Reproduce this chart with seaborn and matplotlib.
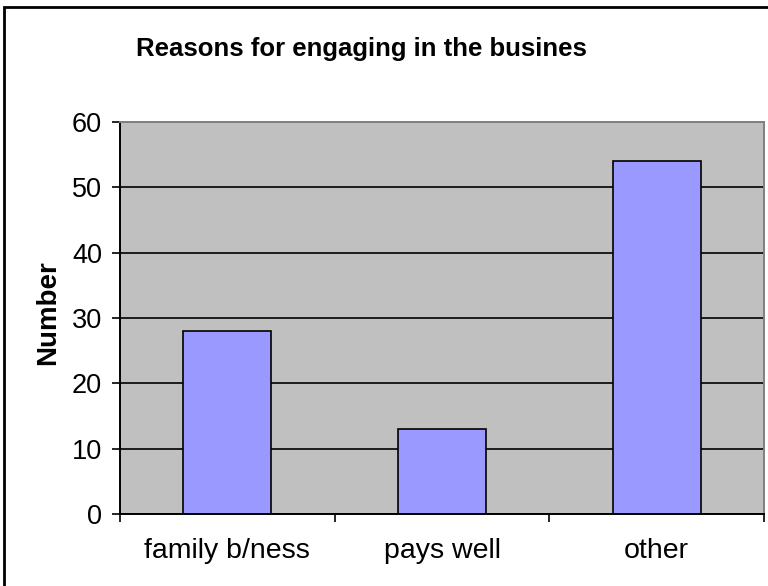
import matplotlib
matplotlib.use("Agg")
import matplotlib.pyplot as plt
import seaborn as sns
import pandas as pd
from matplotlib.patches import Rectangle

categories = ["family b/ness", "pays well", "other"]
values = [28, 13, 54]
yticks = [0, 10, 20, 30, 40, 50, 60]
title = "Reasons for engaging in the busines"
ylabel = "Number"

sns.set_theme(style="white")
plt.rcParams['font.family'] = ['Liberation Sans', 'DejaVu Sans']

df = pd.DataFrame({"cat": categories, "val": values})

fig = plt.figure(figsize=(7.68, 5.86), dpi=100)
fig.patch.set_facecolor("white")
ax = fig.add_axes([120/768, 1-514/586, (764-120)/768, (514-122)/586])
ax.set_facecolor("#C0C0C0")
ax.set_axisbelow(True)

sns.barplot(data=df, x="cat", y="val", color="#9999FF", edgecolor="black",
            linewidth=1.2, width=0.41, saturation=1, ax=ax)

ax.set_xlim(-0.5, 2.5)
ax.set_ylim(0, 60)
ax.set_yticks(yticks)
ax.yaxis.grid(True, color="black", linewidth=1.2)
ax.xaxis.grid(False)
ax.tick_params(axis="y", which="major", direction="out", length=6, width=1.2,
               color="black", labelsize=19.5, pad=7, left=True)
ax.tick_params(axis="x", which="major", length=0, labelsize=20.5, pad=17)
ax.set_xticks([-0.5, 0.5, 1.5, 2.5], minor=True)
ax.tick_params(axis="x", which="minor", direction="out", length=6, width=1.2,
               color="black", bottom=True)
for lbl in ax.get_xticklabels() + ax.get_yticklabels():
    lbl.set_color("black")

ax.set_xlabel("")
ax.set_ylabel(ylabel, fontsize=20, fontweight="bold", color="black")
ax.yaxis.set_label_coords(-(120 - 61) / 644, (514 - 313) / 392)

for s in ["left", "bottom"]:
    ax.spines[s].set_color("black")
    ax.spines[s].set_linewidth(1.4)
for s in ["top", "right"]:
    ax.spines[s].set_color("#808080")
    ax.spines[s].set_linewidth(1.4)

fig.text(136/768, 1-49/586, title, fontsize=18.5, fontweight="bold",
         ha="left", va="center", color="black")

fig.patches.append(Rectangle((4/768, -0.05), 1.1, 1-7/586+0.05, transform=fig.transFigure,
                             fill=False, edgecolor="black", linewidth=2, zorder=10))

fig.savefig("out.png", dpi=100, facecolor="white")
